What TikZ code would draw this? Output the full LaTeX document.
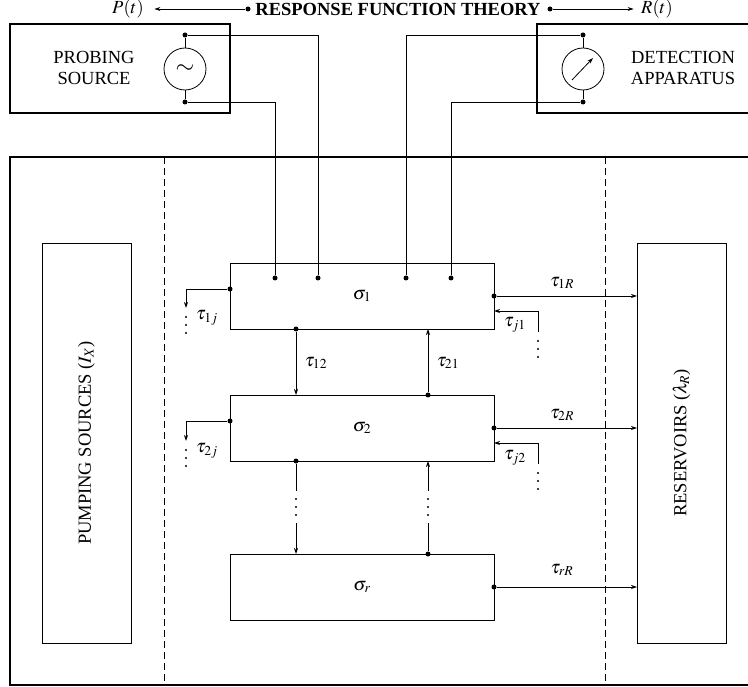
\documentclass[tikz,border=0pt]{standalone}
\usepackage{mathptmx}
\usepackage[no-math]{fontspec}
\setmainfont{Liberation Serif}
\usetikzlibrary{arrows.meta, positioning}
\tikzstyle{wire} = [draw, line width=0.8pt]
\tikzstyle{flow} = [draw, line width=0.8pt, -{Stealth[length=6pt,width=4pt]}]
\tikzstyle{block} = [rectangle, draw, line width=0.8pt, minimum width=264pt,
  minimum height=66pt, inner sep=0pt, outer sep=0pt]
\tikzstyle{pool} = [rectangle, draw, line width=0.8pt, minimum width=89pt,
  minimum height=400pt, inner sep=0pt, outer sep=0pt]
\tikzstyle{heavy} = [draw, line width=2.8pt]
\tikzstyle{meter} = [circle, draw, line width=0.8pt, minimum size=42pt, inner sep=0pt]
\tikzstyle{dot} = [circle, fill, inner sep=0pt, minimum size=5pt]
\tikzstyle{divider} = [draw, line width=0.8pt, dash pattern=on 7pt off 4pt]

\begin{document}
\begin{tikzpicture}[x=1pt, y=-1pt, font=\fontsize{18.5}{21}\selectfont]
    \useasboundingbox (0,0) rectangle (748,687);

    % title line
    \node (Pt) at (128,9) {$P(t)$};
    \node (rft) at (398,9) {\textbf{RESPONSE FUNCTION THEORY}};
    \node (Rt) at (657,9) {$R(t)$};
    \node [dot] (rftL) at (248,9) {};
    \node [dot] (rftR) at (550,9) {};
    \path [flow, shorten >=7pt] (rftL) -- (Pt);
    \path [flow, shorten >=4pt] (rftR) -- (Rt);

    % probing source
    \node [heavy, minimum width=220pt, minimum height=89pt] (probe) at (120,68.5) {};
    \node [align=center] (probeTxt) at (94,68) {PROBING\\SOURCE};
    \node [meter] (ac) at (185,69) {\fontsize{24}{24}\selectfont$\sim$};
    \node [dot] (acT) at (185,35) {};
    \node [dot] (acB) at (185,102) {};
    \path [wire] (acT) -- (ac) (ac) -- (acB);

    % detection apparatus
    \path [heavy] (748,24) -| (537,113) -- (748,113);
    \node [align=center] (detTxt) at (683,68) {DETECTION\\APPARATUS};
    \node [meter] (gauge) at (583,69) {};
    \path [flow] ([shift={(-11,11)}]gauge.center) -- ([shift={(10,-11)}]gauge.center);
    \node [dot] (gaugeT) at (583,35) {};
    \node [dot] (gaugeB) at (583,102) {};
    \path [wire] (gaugeT) -- (gauge) (gauge) -- (gaugeB);

    % system frame
    \path [heavy] (748,157) -| (10,685) -- (748,685);
    \path [divider] (164,157) -- (164,685);
    \path [divider] (605,157) -- (605,685);

    \node [pool] (pump) at (86.5,443) {};
    \node [rotate=90] at (pump) {PUMPING SOURCES ($I_X$)};
    \node [pool] (res) at (681.5,443) {};
    \node [rotate=90] at (res) {RESERVOIRS ($\lambda_R$)};

    % subsystems
    \node [block] (sigma1) at (362,296) {$\sigma_1$};
    \node [block, below=66pt of sigma1] (sigma2) {$\sigma_2$};
    \node [block, below=93pt of sigma2] (sigmar) {$\sigma_r$};

    \node [dot] (in1) at (275,278) {};
    \node [dot] (in2) at (318,278) {};
    \node [dot] (in3) at (406,278) {};
    \node [dot] (in4) at (451,278) {};
    \path [wire] (acB) -| (in1);
    \path [wire] (acT) -| (in2);
    \path [wire] (gaugeT) -| (in3);
    \path [wire] (gaugeB) -| (in4);

    % couplings between subsystems
    \node [dot] (d12) at (296,329) {};
    \node [dot] (d21) at (428,395) {};
    \path [flow] (d12) -- (d12 |- sigma2.north);
    \path [flow] (d21) -- (d21 |- sigma1.south);
    \node at (316,363) {$\tau_{12}$};
    \node at (448,363) {$\tau_{21}$};

    \node [dot] (d2r) at (296,461) {};
    \node [dot] (dr2) at (428,554) {};
    \coordinate (gapA1) at (296,491);
    \coordinate (gapA2) at (296,523);
    \coordinate (gapB1) at (428,491);
    \coordinate (gapB2) at (428,523);
    \path [wire] (d2r) -- (gapA1);
    \path [flow] (gapA2) -- (gapA2 |- sigmar.north);
    \path [wire] (dr2) -- (gapB2);
    \path [flow] (gapB1) -- (gapB1 |- sigma2.south);
    \foreach \y in {499,507,515} {
      \fill (296,\y) circle (1.2pt);
      \fill (428,\y) circle (1.2pt);
    }

    % losses to other subsystems
    \node [dot] (out1) at (230,289) {};
    \node [dot] (out2) at (230,421) {};
    \coordinate (out1end) at (186,308);
    \coordinate (out2end) at (186,441);
    \path [flow] (out1) -| (out1end);
    \path [flow] (out2) -| (out2end);
    \foreach \y in {317,325,333,450,458,466}
      \fill (186,\y) circle (1.2pt);
    \node at (207,318) {$\tau_{1j}$};
    \node at (207,451) {$\tau_{2j}$};

    % reservoirs
    \node [dot] (r1) at (494,296) {};
    \node [dot] (r2) at (494,428) {};
    \node [dot] (rr) at (494,587) {};
    \path [flow] (r1) -- (r1 -| res.west);
    \path [flow] (r2) -- (r2 -| res.west);
    \path [flow] (rr) -- (rr -| res.west);
    \node at (562,283) {$\tau_{1R}$};
    \node at (562,415) {$\tau_{2R}$};
    \node at (562,570) {$\tau_{rR}$};

    % gains from other subsystems
    \coordinate (in1src) at (538,332);
    \coordinate (in2src) at (538,464);
    \path [flow] (in1src) |- ([yshift=-15pt]sigma1.east);
    \path [flow] (in2src) |- ([yshift=-15pt]sigma2.east);
    \foreach \y in {341,349,357,473,481,489}
      \fill (538,\y) circle (1.2pt);
    \node at (515,325) {$\tau_{j1}$};
    \node at (515,458) {$\tau_{j2}$};
\end{tikzpicture}
\end{document}
